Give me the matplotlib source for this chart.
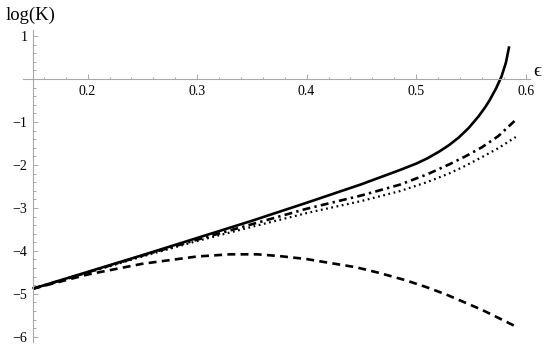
import matplotlib
matplotlib.use("Agg")
import matplotlib.pyplot as plt
from matplotlib.ticker import MultipleLocator, FixedLocator

# Data
eps_solid = [0.15, 0.20, 0.25, 0.30, 0.35, 0.40, 0.45, 0.485, 0.50, 0.51, 0.521, 0.53, 0.539, 0.548,
             0.557, 0.563, 0.567, 0.573, 0.578, 0.582, 0.585]
k_solid   = [-4.88, -4.49, -4.10, -3.70, -3.30, -2.88, -2.45, -2.12, -1.97, -1.85, -1.69, -1.54, -1.36, -1.14,
             -0.87, -0.66, -0.50, -0.22, 0.06, 0.38, 0.76]

eps_dashdot = [0.15, 0.20, 0.25, 0.30, 0.35, 0.40, 0.45, 0.485, 0.51, 0.53, 0.545, 0.56, 0.575, 0.591]
k_dashdot   = [-4.88, -4.50, -4.11, -3.74, -3.38, -3.02, -2.71, -2.46, -2.22, -1.99, -1.80, -1.59, -1.33, -0.95]

eps_dotted = [0.15, 0.20, 0.25, 0.30, 0.35, 0.40, 0.45, 0.485, 0.51, 0.53, 0.545, 0.56, 0.575, 0.591]
k_dotted   = [-4.88, -4.51, -4.13, -3.77, -3.44, -3.12, -2.84, -2.61, -2.40, -2.20, -2.02, -1.82, -1.61, -1.35]

eps_dashed = [0.15, 0.20, 0.25, 0.30, 0.33, 0.355, 0.375, 0.40, 0.421, 0.445, 0.466, 0.49, 0.509, 0.527, 0.56, 0.592]
k_dashed   = [-4.88, -4.55, -4.30, -4.13, -4.08, -4.08, -4.12, -4.19, -4.28, -4.38, -4.51, -4.68, -4.84, -5.01, -5.37, -5.77]

x_major = [0.2, 0.3, 0.4, 0.5, 0.6]
x_labels = ["0.2", "0.3", "0.4", "0.5", "0.6"]
y_major = [-6, -5, -4, -3, -2, -1, 1]
y_labels = ["\u22126", "\u22125", "\u22124", "\u22123", "\u22122", "\u22121", "1"]

serif = ["Liberation Serif", "DejaVu Serif"]

fig = plt.figure(figsize=(5.5, 3.49), dpi=100)
W, H = 550, 349
left_px, right_px, top_px, bot_px = 23, 530, 30, 342
ax = fig.add_axes([left_px / W, 1 - bot_px / H, (right_px - left_px) / W, (bot_px - top_px) / H])
ax.set_xlim(0.141, 0.604)
ax.set_ylim(-6.12, 1.14)

ax.plot(eps_solid, k_solid, color="black", lw=1.9, solid_capstyle="butt", solid_joinstyle="round")
ax.plot(eps_dashdot, k_dashdot, color="black", lw=1.9, dashes=(3.0, 1.6, 0.9, 1.6))
ax.plot(eps_dotted, k_dotted, color="black", lw=1.6, dashes=(0.8, 1.6))
ax.plot(eps_dashed, k_dashed, color="black", lw=1.9, dashes=(3.0, 2.0))

for s in ["top", "right"]:
    ax.spines[s].set_visible(False)
gray = "#a8a8a8"
ax.spines["left"].set_position(("data", 0.15))
ax.spines["bottom"].set_position(("data", 0.0))
ax.spines["left"].set_color(gray)
ax.spines["bottom"].set_color(gray)
ax.spines["left"].set_linewidth(0.8)
ax.spines["bottom"].set_linewidth(0.8)

ax.xaxis.set_major_locator(FixedLocator(x_major))
ax.set_xticklabels(x_labels, family=serif, fontsize=10)
ax.xaxis.set_minor_locator(MultipleLocator(0.02))
ax.yaxis.set_major_locator(FixedLocator(y_major))
ax.set_yticklabels(y_labels, family=serif, fontsize=10)
ax.yaxis.set_minor_locator(MultipleLocator(0.2))

ax.tick_params(which="both", direction="in", color=gray, width=0.7)
ax.tick_params(which="major", length=3.5, pad=4)
ax.tick_params(which="minor", length=1.8)

fig.text(6 / W, 1 - 15 / H, "log(K)", family=serif, fontsize=13.5, ha="left", va="center")
fig.text(533 / W, 1 - 72 / H, "\u03f5", family=serif, fontsize=14, ha="left", va="center")

fig.savefig("out.png", dpi=100)
